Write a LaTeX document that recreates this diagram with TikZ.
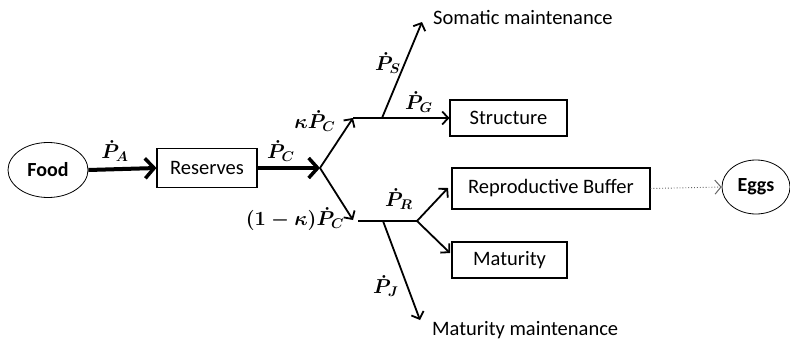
\documentclass[tikz,border=0pt]{standalone}
\usepackage{fontspec}
\usepackage{amsmath,bm,graphicx}
\setmainfont{Carlito}
\usetikzlibrary{arrows.meta,shapes.geometric}
\newcommand{\mlab}[1]{\scalebox{1.4}{\fontsize{14.4}{16}\selectfont\boldmath$\bm{#1}$}}
\begin{document}
\begin{tikzpicture}[x=1pt,y=-1pt,
  txt/.style={font=\fontsize{20.5}{23}\selectfont},
  boxn/.style={draw,line width=1.1pt,rectangle,inner sep=0pt,txt},
  ovaln/.style={draw,line width=0.8pt,ellipse,inner sep=0pt,font=\fontsize{20}{23}\selectfont\bfseries},
  lab/.style={inner sep=0pt},
  thickarr/.style={line width=4pt,-{Straight Barb[length=9pt,width=20pt,line width=3.5pt]}},
  arr/.style={line width=1.8pt,-{Straight Barb[length=6pt,width=13pt,line width=1.8pt]}},
  ln/.style={line width=1.8pt},
  dotarr/.style={line width=0.9pt,gray!80!black,dotted,-{Straight Barb[length=6pt,width=14pt,line width=1pt]}}
]
\useasboundingbox (0,0) rectangle (790,343);
% nodes
\node[ovaln,minimum width=80pt,minimum height=55pt] (food) at (48,170) {Food};
\node[boxn,minimum width=100pt,minimum height=39pt] (res) at (207,168) {Reserves};
\node[boxn,minimum width=117pt,minimum height=36pt] (str) at (508.5,118) {Structure};
\node[boxn,minimum width=198pt,minimum height=41pt] (rb) at (551,188.5) {Reproductive Buffer};
\node[boxn,minimum width=115pt,minimum height=36pt] (mat) at (509.5,260) {Maturity};
\node[ovaln,minimum width=68pt,minimum height=54pt] (eggs) at (756,187) {Eggs};
\node[txt,anchor=west,inner sep=0pt] (som) at (433,17) {Somatic maintenance};
\node[txt,anchor=west,inner sep=0pt] (matm) at (432,330) {Maturity maintenance};
% junction coordinates
\coordinate (j) at (320,168);
\coordinate (u) at (353,118);
\coordinate (ups) at (382,118);
\coordinate (sompt) at (422,22);
\coordinate (ltip) at (353,220);
\coordinate (lst) at (358,221);
\coordinate (lpj) at (383,221);
\coordinate (lr) at (417,221);
\coordinate (pjt) at (420,320);
\coordinate (rbt) at (448,188);
\coordinate (matt) at (450,253);
% connectors
\draw[thickarr] (food.east) -- (res.west);
\draw[thickarr] (res.east) -- (j);
\draw[arr] (j) -- (u);
\draw[arr] (u) -- (str.west);
\draw[arr] (ups) -- (sompt);
\draw[arr] (j) -- (ltip);
\draw[ln] (lst) -- (lr);
\draw[arr] (lpj) -- (pjt);
\draw[arr] (lr) -- (rbt);
\draw[arr] (lr) -- (matt);
\draw[dotarr] (rb.east) -- (eggs.west);
% labels
\node[lab] (la) at (115,151) {\mlab{\dot P_A}};
\node[lab] (lc) at (281,151) {\mlab{\dot P_C}};
\node[lab] (lk) at (315,121) {\mlab{\kappa\dot P_C}};
\node[lab] (lkk) at (295,219) {\mlab{(1-\kappa)\dot P_C}};
\node[lab] (ls) at (388,63) {\mlab{\dot P_S}};
\node[lab] (lg) at (419,102) {\mlab{\dot P_G}};
\node[lab] (lrr) at (399,199) {\mlab{\dot P_R}};
\node[lab] (lj) at (386,286) {\mlab{\dot P_J}};
\end{tikzpicture}
\end{document}
